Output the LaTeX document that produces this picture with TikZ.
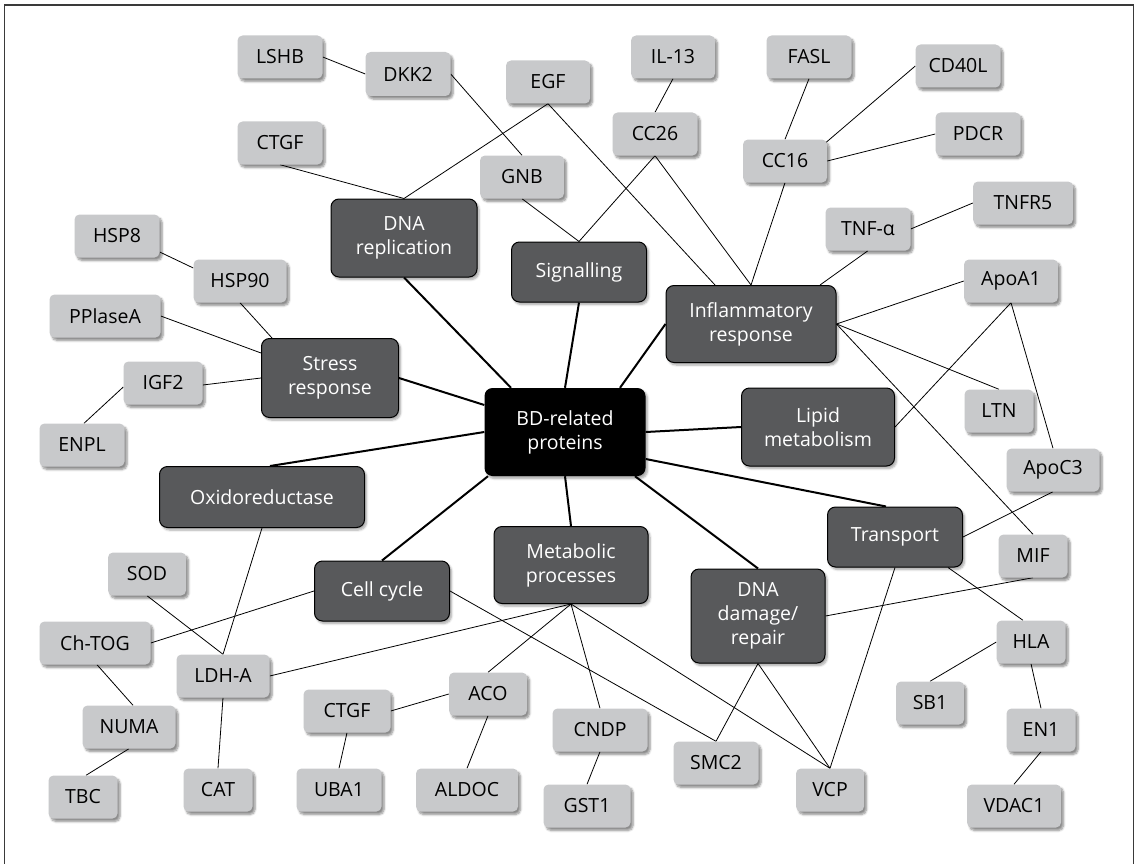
\documentclass[tikz,border=0pt]{standalone}
\usepackage{fontspec}
\setmainfont{Open Sans}
\usetikzlibrary{shadows.blur,backgrounds}
\definecolor{leafgray}{HTML}{C8C9CB}
\definecolor{groupgray}{HTML}{58595B}
\definecolor{framegray}{HTML}{3A3A3A}
\begin{document}
\begin{tikzpicture}[x=1pt,y=-1pt,
  every node/.style={font=\fontsize{19.5}{24}\selectfont, align=center, inner sep=0pt},
  leaf/.style={fill=leafgray, rounded corners=5pt, minimum height=43pt,
    blur shadow={shadow xshift=2.5pt, shadow yshift=-3pt, shadow blur steps=6, shadow opacity=45}},
  group/.style={fill=groupgray, draw=black, line width=1pt, text=white, rounded corners=8pt,
    blur shadow={shadow xshift=2pt, shadow yshift=-2.5pt, shadow blur steps=6, shadow opacity=35}},
  hub/.style={fill=black, text=white, rounded corners=8pt,
    blur shadow={shadow xshift=2pt, shadow yshift=-2.5pt, shadow blur steps=6, shadow opacity=35}},
  link/.style={line width=0.8pt, black},
  mainlink/.style={line width=2pt, black}]
\useasboundingbox (0,0) rectangle (1137,864);
% outer frame (open at the bottom)
\draw[framegray, line width=1.4pt] (4.5,864) -- (4.5,5) -- (1133.5,5) -- (1133.5,864);

% central hub
\node[hub, minimum width=161pt, minimum height=88pt] (bd) at (565,432) {BD-related\\proteins};

% functional groups
\node[group, minimum width=146pt, minimum height=78pt] (dnarep) at (404,238) {DNA\\replication};
\node[group, minimum width=135pt, minimum height=60pt] (signal) at (579,272) {Signalling};
\node[group, minimum width=170pt, minimum height=77pt] (inflam) at (751,324) {Inflammatory\\response};
\node[group, minimum width=137pt, minimum height=79pt] (stress) at (330,378) {Stress\\response};
\node[group, minimum width=205pt, minimum height=61pt] (oxido) at (262,497) {Oxidoreductase};
\node[group, minimum width=153pt, minimum height=78pt] (lipid) at (818,427) {Lipid\\metabolism};
\node[group, minimum width=135pt, minimum height=60pt] (transport) at (895,537) {Transport};
\node[group, minimum width=154pt, minimum height=77pt] (metab) at (571,565) {Metabolic\\processes};
\node[group, minimum width=135pt, minimum height=60pt] (cellcycle) at (382,591) {Cell cycle};
\node[group, minimum width=134pt, minimum height=94pt] (dnadmg) at (758,616) {DNA\\damage/\\repair};

% proteins
\node[leaf, minimum width=85pt] (lshb) at (280,57) {LSHB};
\node[leaf, minimum width=85pt, minimum height=44pt] (dkk) at (408,74) {DKK2};
\node[leaf, minimum width=85pt] (ctgfa) at (280,143) {CTGF};
\node[leaf, minimum width=85pt] (hspe) at (117,236) {HSP8};
\node[leaf, minimum width=93pt] (hspn) at (240,281) {HSP90};
\node[leaf, minimum width=84pt] (egf) at (548,82) {EGF};
\node[leaf, minimum width=84pt] (ilt) at (673,57) {IL-13};
\node[leaf, minimum width=85pt] (cctw) at (655,134) {CC26};
\node[leaf, minimum width=84pt] (gnb) at (522,177) {GNB};
\node[leaf, minimum width=85pt] (fasl) at (809,57) {FASL};
\node[leaf, minimum width=85pt] (cdf) at (958,66) {CD40L};
\node[leaf, minimum width=84pt] (ccsx) at (785,161) {CC16};
\node[leaf, minimum width=85pt] (pdcr) at (978,134) {PDCR};
\node[leaf, minimum width=100pt] (tnfr) at (1023,203) {TNFR5};
\node[leaf, minimum width=85pt] (tnfa) at (868,229) {TNF-α};
\node[leaf, minimum width=94pt] (apoa) at (1011,281) {ApoA1};
\node[leaf, minimum width=111pt] (ppia) at (105,316) {PPlaseA};
\node[leaf, minimum width=79pt] (igf) at (163,383) {IGF2};
\node[leaf, minimum width=85pt] (enpl) at (82,445) {ENPL};
\node[leaf, minimum width=69pt] (ltn) at (999,411) {LTN};
\node[leaf, minimum width=93pt] (apoc) at (1053,470) {ApoC3};
\node[leaf, minimum width=69pt] (mif) at (1033,556) {MIF};
\node[leaf, minimum width=78pt] (sod) at (147,574) {SOD};
\node[leaf, minimum width=111pt] (chtog) at (95,643) {Ch-TOG};
\node[leaf, minimum width=93pt] (ldha) at (223,676) {LDH-A};
\node[leaf, minimum width=93pt] (numa) at (129,727) {NUMA};
\node[leaf, minimum width=69pt] (tbc) at (83,797) {TBC};
\node[leaf, minimum width=69pt] (catn) at (218,790) {CAT};
\node[leaf, minimum width=87pt] (ctgfb) at (347,711) {CTGF};
\node[leaf, minimum width=85pt] (uba) at (339,790) {UBA1};
\node[leaf, minimum width=78pt] (aco) at (488,694) {ACO};
\node[leaf, minimum width=102pt] (aldoc) at (467,790) {ALDOC};
\node[leaf, minimum width=95pt] (cndp) at (600,730) {CNDP};
\node[leaf, minimum width=87pt] (gst) at (587,806) {GST1};
\node[leaf, minimum width=85pt] (smc) at (716,763) {SMC2};
\node[leaf, minimum width=68pt] (vcp) at (830,790) {VCP};
\node[leaf, minimum width=69pt] (hla) at (1031,642) {HLA};
\node[leaf, minimum width=68pt] (sb) at (930,703) {SB1};
\node[leaf, minimum width=69pt] (en) at (1041,730) {EN1};
\node[leaf, minimum width=94pt] (vdac) at (1014,806) {VDAC1};

\begin{pgfonlayer}{background}
% hub to groups
\draw[mainlink] (dnarep.south) -- ([xshift=-54pt]bd.north);
\draw[mainlink] (signal.south) -- (bd.north);
\draw[mainlink] (inflam.west) -- ([xshift=55pt]bd.north);
\draw[mainlink] (stress.east) -- ([yshift=27pt]bd.west);
\draw[mainlink] ([xshift=8pt]oxido.north) -- (bd.west);
\draw[mainlink] (bd.east) -- (lipid.west);
\draw[mainlink] ([yshift=-27pt]bd.east) -- ([xshift=-9pt]transport.north);
\draw[mainlink] (bd.south) -- (metab.north);
\draw[mainlink] ([xshift=-77pt]bd.south) -- (cellcycle.north);
\draw[mainlink] ([xshift=70pt]bd.south) -- (dnadmg.north);

% groups to proteins, proteins to proteins
\draw[link] (lshb.east) -- (dkk.west);
\draw[link] (dkk.east) -- (gnb.north);
\draw[link] (ctgfa.south) -- (dnarep.north);
\draw[link] (egf.south) -- (dnarep.north);
\draw[link] (egf.south) -- ([xshift=-36pt]inflam.north);
\draw[link] (gnb.south) -- (signal.north);
\draw[link] (ilt.south) -- (cctw.north);
\draw[link] (cctw.south) -- (signal.north);
\draw[link] (cctw.south) -- (inflam.north);
\draw[link] (ccsx.south) -- (inflam.north);
\draw[link] (fasl.south) -- (ccsx.north);
\draw[link] (cdf.west) -- ([shift={(-1pt,-3pt)}]ccsx.north east);
\draw[link] (pdcr.west) -- (ccsx.east);
\draw[link] (tnfr.west) -- (tnfa.east);
\draw[link] (tnfa.south) -- ([xshift=69pt]inflam.north);
\draw[link] (inflam.east) -- (apoa.west);
\draw[link] (inflam.east) -- (ltn.north);
\draw[link] (inflam.east) -- (mif.north);
\draw[link] (apoa.south) -- (lipid.east);
\draw[link] (apoa.south) -- (apoc.north);
\draw[link] (apoc.south) -- (transport.east);
\draw[link] ([yshift=-16pt]hspe.east) -- ([yshift=13pt]hspn.west);
\draw[link] (hspn.south) -- ([xshift=-58pt]stress.north);
\draw[link] (ppia.east) -- ([yshift=25pt]stress.west);
\draw[link] ([yshift=-2pt]igf.east) -- (stress.west);
\draw[link] ([xshift=2pt]enpl.north) -- ([yshift=-4pt]igf.west);
\draw[link] (oxido.south) -- (ldha.north);
\draw[link] (sod.south) -- (ldha.north);
\draw[link] (cellcycle.west) -- (chtog.east);
\draw[link] ([xshift=2pt]chtog.south) -- ([xshift=4pt]numa.north);
\draw[link] (numa.south) -- ([xshift=3pt]tbc.north);
\draw[link] (ldha.south) -- (catn.north);
\draw[link] (ldha.east) -- (metab.south);
\draw[link] (metab.south) -- (aco.north);
\draw[link] (metab.south) -- (cndp.north);
\draw[link] (metab.south) -- (vcp.north);
\draw[link] (cellcycle.east) -- (smc.north);
\draw[link] (dnadmg.south) -- (smc.north);
\draw[link] (dnadmg.south) -- (vcp.north);
\draw[link] (transport.south) -- (vcp.north);
\draw[link] ([xshift=53pt]transport.south) -- ([xshift=-8pt]hla.north);
\draw[link] (dnadmg.east) -- (mif.south);
\draw[link] (hla.west) -- (sb.north);
\draw[link] (hla.south) -- (en.north);
\draw[link] (en.south) -- (vdac.north);
\draw[link] (ctgfb.east) -- (aco.west);
\draw[link] (ctgfb.south) -- (uba.north);
\draw[link] (aco.south) -- (aldoc.north);
\draw[link] (cndp.south) -- (gst.north);
\end{pgfonlayer}
\end{tikzpicture}
\end{document}
